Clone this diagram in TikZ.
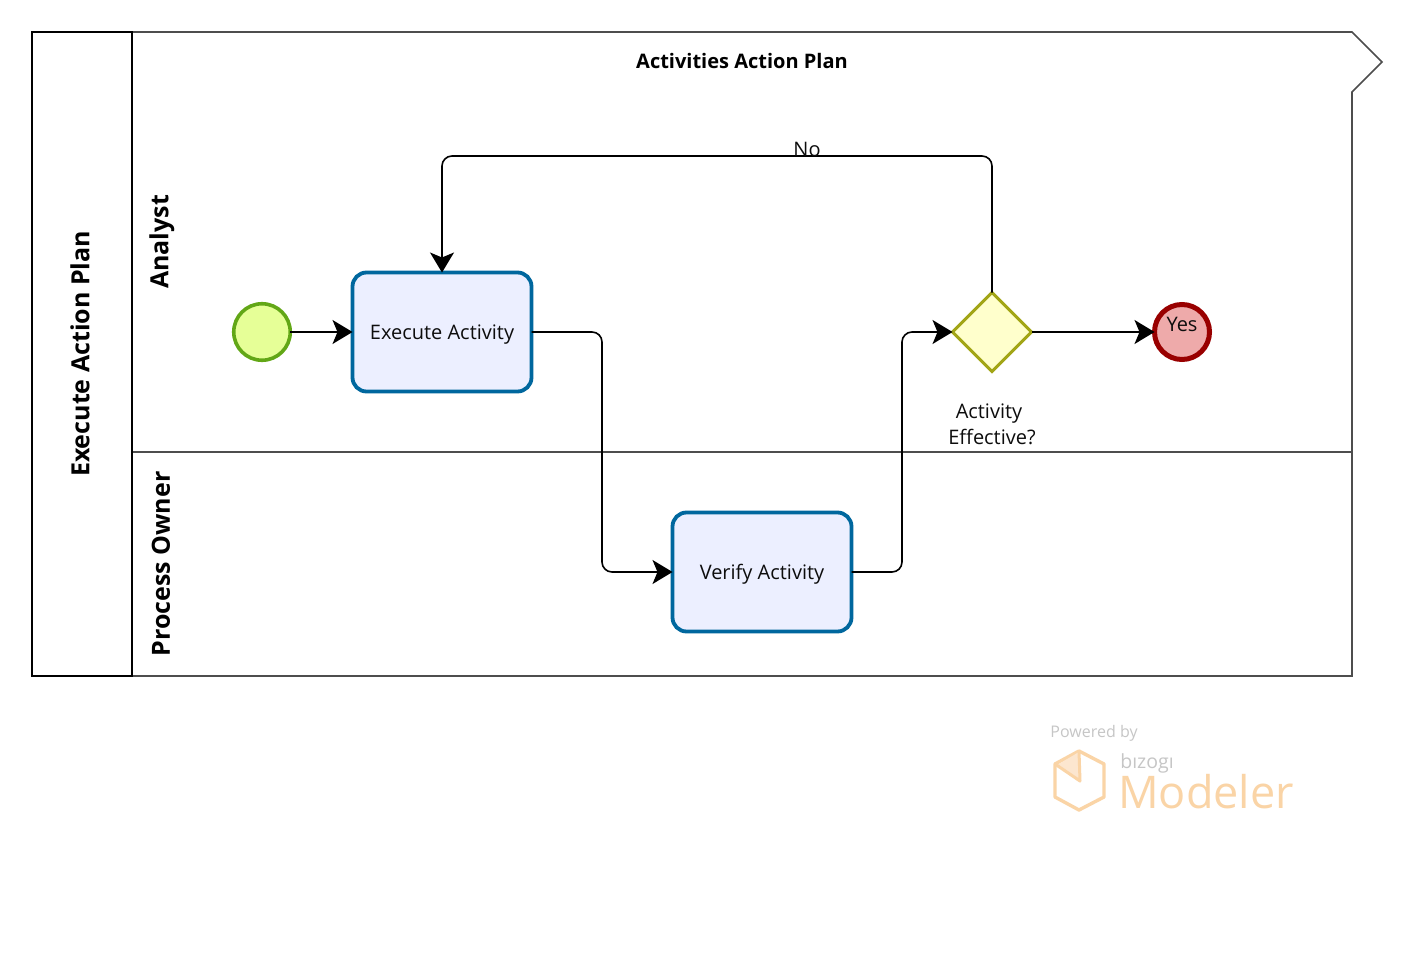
\documentclass[tikz,border=0pt]{standalone}
\usepackage{fontspec}
\setmainfont{Open Sans}
\usetikzlibrary{shapes.geometric,arrows.meta}
\definecolor{lanegray}{HTML}{4D4D4D}
\definecolor{taskblue}{HTML}{00679E}
\definecolor{taskfill}{HTML}{ECEFFF}
\definecolor{startgreen}{HTML}{62A716}
\definecolor{startfill}{HTML}{E6FF97}
\definecolor{gwline}{HTML}{A2A516}
\definecolor{gwfill}{HTML}{FFFFCC}
\definecolor{endred}{HTML}{990000}
\definecolor{endfill}{HTML}{EEAAAA}
\definecolor{logoorange}{HTML}{FAD4A6}
\definecolor{logowedge}{HTML}{FCE6CF}
\definecolor{logogray}{HTML}{C6C6C6}
\tikzset{
  x=1pt,y=-1pt,
  every node/.style={outer sep=0pt,inner sep=0pt},
  lbl/.style={font=\fontsize{20}{26}\selectfont,text=black!95},
  hdr/.style={font=\fontsize{20}{24}\selectfont\bfseries,text=black},
  hdrrot/.style={font=\fontsize{25}{28}\selectfont\bfseries,text=black,rotate=90},
  taskbox/.style={draw=taskblue,fill=taskfill,line width=3.8pt,rounded corners=14pt,minimum width=179pt,minimum height=119pt,lbl},
  flow/.style={draw=black,line width=1.6pt,rounded corners=10pt,-{Stealth[length=20pt,width=24pt,inset=5pt]}},
}
\begin{document}
\begin{tikzpicture}
\useasboundingbox (0,0) rectangle (1402,968);
\fill[white] (0,0) rectangle (1402,968);
% pool and lanes
\draw[lanegray,line width=1.6pt,line join=miter] (132,32) -- (1352,32) -- (1382,62) -- (1352,92) -- (1352,676) -- (132,676);
\draw[lanegray,line width=1.6pt] (132,452) -- (1352,452);
\draw[black,line width=1.8pt] (32,32) rectangle (132,676);
\node[hdr] (title) at (742,61.5) {Activities Action Plan};
\node[hdrrot] (pool) at (80,354) {Execute Action Plan};
\node[hdrrot] (lanea) at (162,242) {Analyst};
\node[hdrrot] (laneb) at (161,564) {Process Owner};
% nodes
\node[circle,draw=startgreen,fill=startfill,line width=3.6pt,minimum size=56.5pt] (start) at (262,332) {};
\node[taskbox] (exec) at (442,332) {\rule{0pt}{20pt}Execute Activity};
\node[taskbox] (verify) at (762,572) {\rule{0pt}{20pt}Verify Activity};
\node[diamond,aspect=1,draw=gwline,fill=gwfill,line width=3pt,minimum size=79pt] (gw) at (992,332) {};
\node[circle,draw=endred,fill=endfill,line width=5pt,minimum size=55pt] (end) at (1182,332) {};
\node[lbl] (yes) at (1182,324.5) {Yes};
\node[lbl,align=center] (gwlabel) at (992,424) {Activity\hspace{6pt}\mbox{}\\Effective?};
% connectors
\coordinate (c1) at (602,332);
\coordinate (c2) at (602,572);
\coordinate (c3) at (902,572);
\coordinate (c4) at (902,332);
\coordinate (c5) at (992,156);
\coordinate (c6) at (442,156);
\draw[flow] (start.east) -- (exec.west);
\draw[flow] (exec.east) -- (c1) -- (c2) -- (verify.west);
\draw[flow] (verify.east) -- (c3) -- (c4) -- (gw.west);
\draw[flow] (gw.east) -- (end.west);
\draw[flow] (gw.north) -- (c5) -- (c6) -- (exec.north);
\node[lbl] (no) at (807,149) {No};
% logo
\draw[logoorange,line width=3.4pt,line join=round] (1079,751) -- (1104,764) -- (1104,797) -- (1079,810) -- (1055,797) -- (1055,764) -- cycle;
\fill[logowedge] (1057,765) -- (1079,752) -- (1080,781) -- cycle;
\draw[logoorange,line width=3pt,line join=round] (1055,764) -- (1080,781) -- (1079,751);
\node[font=\fontsize{16}{18}\selectfont,text=logogray] (powered) at (1094,733) {Powered by};
\node[font=\fontsize{19.5}{21}\selectfont,text=logogray] (bizagi) at (1147,763) {bızogı};
\node[font=\fontsize{45}{48}\selectfont,text=logoorange] (modeler) at (1206,792) {Modeler};
\end{tikzpicture}
\end{document}
